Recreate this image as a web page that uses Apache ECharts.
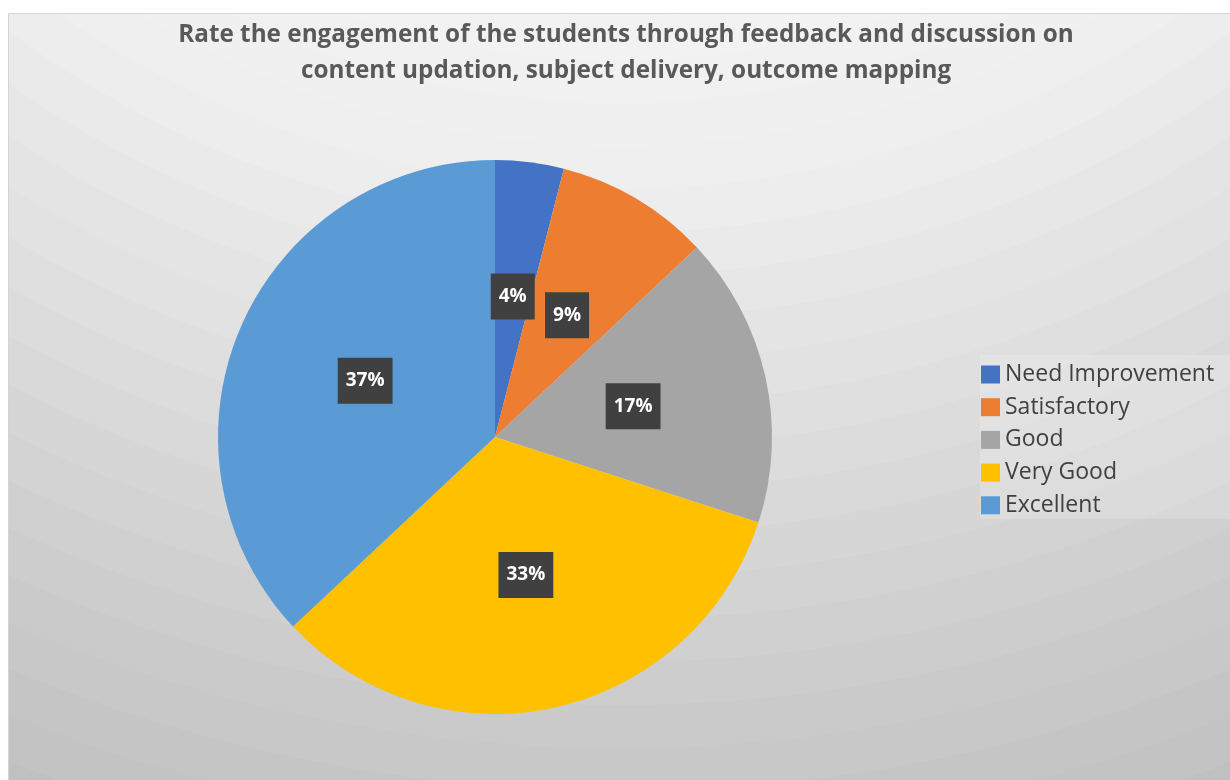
<!DOCTYPE html>
<html>
<head>
<meta charset="utf-8">
<script src="https://cdn.jsdelivr.net/npm/echarts@6/dist/echarts.min.js"></script>
<style>
  html, body { margin: 0; padding: 0; background: #fff; }
  #chart { width: 1230px; height: 780px; }
</style>
</head>
<body>
<div id="chart"></div>
<script>
// data
var categories = ["Need Improvement", "Satisfactory", "Good", "Very Good", "Excellent"];
var percentValues = [4, 9, 17, 33, 37];
var sliceColors = ["#4472C4", "#ED7D31", "#A5A5A5", "#FFC000", "#5B9BD5"];
var titleText = "Rate the engagement of the students through feedback and discussion on\ncontent updation, subject delivery, outcome mapping";

// banded radial background (centre far above the chart)
function bandStops() {
  var keys = [[0, 250], [0.477, 243], [0.58, 238], [0.727, 221], [0.9, 201], [1, 191]];
  var bands = 40, stops = [];
  function grey(t) {
    for (var k = 1; k < keys.length; k++) {
      if (t <= keys[k][0]) {
        var a = keys[k - 1], b = keys[k];
        return a[1] + (b[1] - a[1]) * (t - a[0]) / (b[0] - a[0]);
      }
    }
    return keys[keys.length - 1][1];
  }
  for (var i = 0; i < bands; i++) {
    var v = Math.round(grey((i + 0.5) / bands));
    var c = "rgb(" + v + "," + v + "," + v + ")";
    stops.push({ offset: i / bands, color: c });
    stops.push({ offset: (i + 1) / bands - 0.0001, color: c });
  }
  return stops;
}

var pieData = categories.map(function (name, i) {
  return { name: name, value: percentValues[i], itemStyle: { color: sliceColors[i] } };
});

var chart = echarts.init(document.getElementById("chart"));
var option = {
  animation: false,
  backgroundColor: "#ffffff",
  graphic: [
    {
      type: "rect",
      z: -10,
      silent: true,
      shape: { x: 8.5, y: 13.5, width: 1240, height: 780 },
      style: {
        fill: new echarts.graphic.RadialGradient(620, -800, 1720, bandStops(), true),
        stroke: "#d4d4d4",
        lineWidth: 1
      }
    }
  ],
  title: {
    text: titleText,
    left: 621,
    top: 12,
    textAlign: "center",
    textStyle: {
      fontFamily: "Open Sans",
      fontSize: 24.3,
      fontWeight: "bold",
      color: "#595959",
      lineHeight: 36
    }
  },
  legend: {
    orient: "vertical",
    left: 980,
    top: 355,
    padding: [8, 30, 2, 1],
    backgroundColor: "rgba(255,255,255,0.18)",
    icon: "rect",
    itemWidth: 19,
    itemHeight: 18,
    itemGap: 9.7,
    textStyle: {
      fontFamily: "Open Sans",
      fontSize: 23,
      color: "#404040"
    },
    data: categories
  },
  series: [
    {
      type: "pie",
      center: [495, 437],
      radius: 277,
      startAngle: 90,
      clockwise: true,
      avoidLabelOverlap: false,
      itemStyle: { borderWidth: 0 },
      label: {
        show: true,
        position: "inside",
        formatter: "{c}%",
        color: "#ffffff",
        fontFamily: "Open Sans",
        fontWeight: "bold",
        fontSize: 19,
        backgroundColor: "#404040",
        padding: [14, 8, 13, 8]
      },
      labelLine: { show: false },
      emphasis: { disabled: true },
      data: pieData
    }
  ]
};
chart.setOption(option);
</script>
</body>
</html>
